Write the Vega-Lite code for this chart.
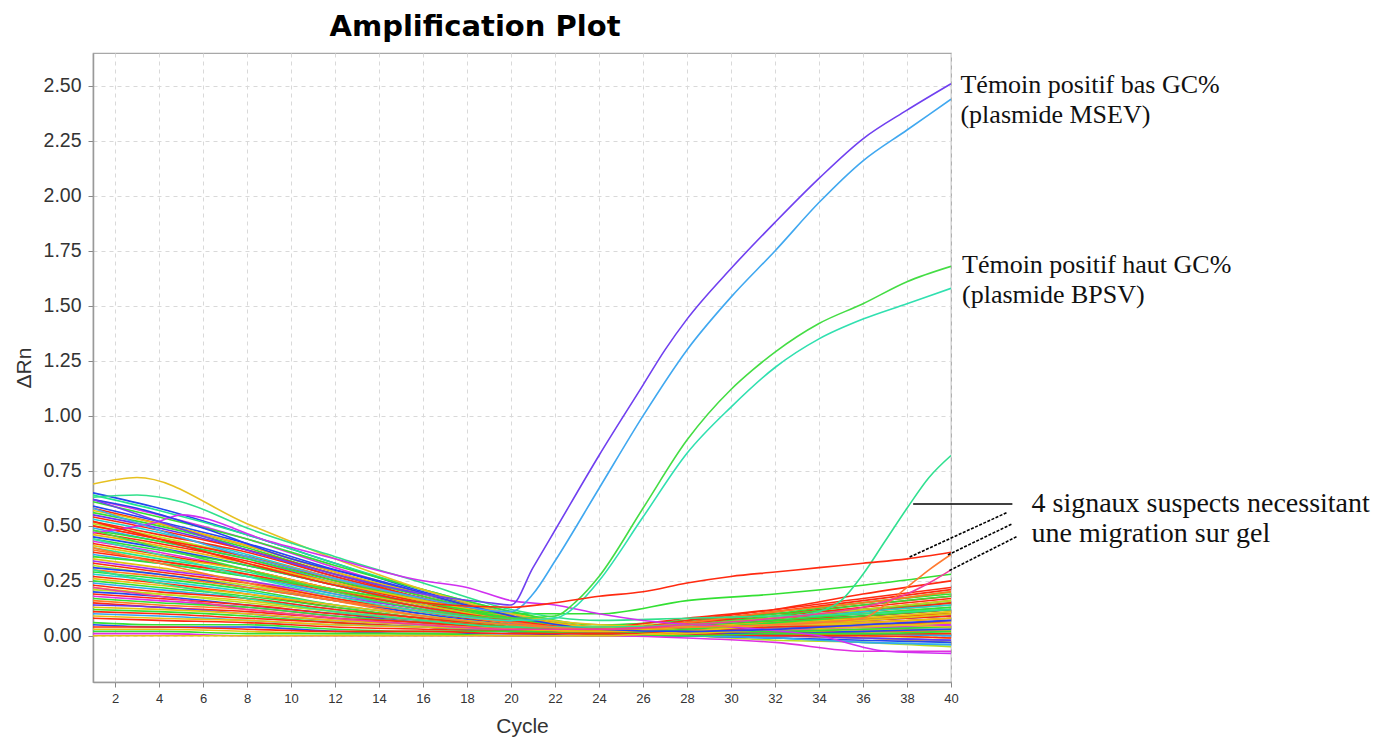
{
"$schema": "https://vega.github.io/schema/vega-lite/v6.json",
"width": 858, "height": 629,
"autosize": "none",
"padding": {"left": 93, "top": 53, "right": 431, "bottom": 58},
"background": "white",
"config": {"view": {"stroke": "#a8a8a8", "strokeWidth": 1.2}},
"title": {"text": "Amplification Plot", "font": "DejaVu Sans", "fontWeight": "bold", "fontSize": 29, "color": "#000", "anchor": "middle", "dx": -47, "baseline": "alphabetic", "offset": -12},
"datasets": {
"curves": [
{"w":"b01","c":1,"v":0.65},{"w":"b01","c":4,"v":0.58},{"w":"b01","c":8,"v":0.46},{"w":"b01","c":12,"v":0.33},{"w":"b01","c":16,"v":0.20},{"w":"b01","c":20,"v":0.10},{"w":"b01","c":24,"v":0.03},{"w":"b01","c":28,"v":0.03},{"w":"b01","c":32,"v":0.04},{"w":"b01","c":36,"v":0.04},{"w":"b01","c":40,"v":0.05},
{"w":"b02","c":1,"v":0.64},{"w":"b02","c":4,"v":0.57},{"w":"b02","c":8,"v":0.46},{"w":"b02","c":12,"v":0.33},{"w":"b02","c":16,"v":0.21},{"w":"b02","c":20,"v":0.11},{"w":"b02","c":24,"v":0.04},{"w":"b02","c":28,"v":0.05},{"w":"b02","c":32,"v":0.07},{"w":"b02","c":36,"v":0.08},{"w":"b02","c":40,"v":0.10},
{"w":"b03","c":1,"v":0.62},{"w":"b03","c":4,"v":0.55},{"w":"b03","c":8,"v":0.44},{"w":"b03","c":12,"v":0.31},{"w":"b03","c":16,"v":0.19},{"w":"b03","c":20,"v":0.09},{"w":"b03","c":24,"v":0.02},{"w":"b03","c":28,"v":0.01},{"w":"b03","c":32,"v":0.00},{"w":"b03","c":36,"v":-0.01},{"w":"b03","c":40,"v":-0.02},
{"w":"b04","c":1,"v":0.61},{"w":"b04","c":4,"v":0.54},{"w":"b04","c":8,"v":0.44},{"w":"b04","c":12,"v":0.32},{"w":"b04","c":16,"v":0.21},{"w":"b04","c":20,"v":0.11},{"w":"b04","c":24,"v":0.05},{"w":"b04","c":28,"v":0.07},{"w":"b04","c":32,"v":0.10},{"w":"b04","c":36,"v":0.12},{"w":"b04","c":40,"v":0.15},
{"w":"b05","c":1,"v":0.59},{"w":"b05","c":4,"v":0.52},{"w":"b05","c":8,"v":0.42},{"w":"b05","c":12,"v":0.30},{"w":"b05","c":16,"v":0.19},{"w":"b05","c":20,"v":0.09},{"w":"b05","c":24,"v":0.03},{"w":"b05","c":28,"v":0.02},{"w":"b05","c":32,"v":0.02},{"w":"b05","c":36,"v":0.01},{"w":"b05","c":40,"v":0.00},
{"w":"b06","c":1,"v":0.58},{"w":"b06","c":4,"v":0.51},{"w":"b06","c":8,"v":0.41},{"w":"b06","c":12,"v":0.29},{"w":"b06","c":16,"v":0.18},{"w":"b06","c":20,"v":0.08},{"w":"b06","c":24,"v":0.02},{"w":"b06","c":28,"v":0.03},{"w":"b06","c":32,"v":0.05},{"w":"b06","c":36,"v":0.06},{"w":"b06","c":40,"v":0.08},
{"w":"b07","c":1,"v":0.57},{"w":"b07","c":4,"v":0.51},{"w":"b07","c":8,"v":0.41},{"w":"b07","c":12,"v":0.29},{"w":"b07","c":16,"v":0.19},{"w":"b07","c":20,"v":0.10},{"w":"b07","c":24,"v":0.04},{"w":"b07","c":28,"v":0.06},{"w":"b07","c":32,"v":0.08},{"w":"b07","c":36,"v":0.10},{"w":"b07","c":40,"v":0.12},
{"w":"b08","c":1,"v":0.56},{"w":"b08","c":4,"v":0.50},{"w":"b08","c":8,"v":0.40},{"w":"b08","c":12,"v":0.28},{"w":"b08","c":16,"v":0.18},{"w":"b08","c":20,"v":0.09},{"w":"b08","c":24,"v":0.03},{"w":"b08","c":28,"v":0.06},{"w":"b08","c":32,"v":0.11},{"w":"b08","c":36,"v":0.15},{"w":"b08","c":40,"v":0.20},
{"w":"b09","c":1,"v":0.55},{"w":"b09","c":4,"v":0.49},{"w":"b09","c":8,"v":0.39},{"w":"b09","c":12,"v":0.27},{"w":"b09","c":16,"v":0.17},{"w":"b09","c":20,"v":0.08},{"w":"b09","c":24,"v":0.02},{"w":"b09","c":28,"v":0.02},{"w":"b09","c":32,"v":0.02},{"w":"b09","c":36,"v":0.03},{"w":"b09","c":40,"v":0.03},
{"w":"b10","c":1,"v":0.54},{"w":"b10","c":4,"v":0.48},{"w":"b10","c":8,"v":0.39},{"w":"b10","c":12,"v":0.28},{"w":"b10","c":16,"v":0.17},{"w":"b10","c":20,"v":0.09},{"w":"b10","c":24,"v":0.03},{"w":"b10","c":28,"v":0.06},{"w":"b10","c":32,"v":0.10},{"w":"b10","c":36,"v":0.14},{"w":"b10","c":40,"v":0.18},
{"w":"b11","c":1,"v":0.53},{"w":"b11","c":4,"v":0.47},{"w":"b11","c":8,"v":0.37},{"w":"b11","c":12,"v":0.26},{"w":"b11","c":16,"v":0.16},{"w":"b11","c":20,"v":0.07},{"w":"b11","c":24,"v":0.01},{"w":"b11","c":28,"v":0.00},{"w":"b11","c":32,"v":-0.01},{"w":"b11","c":36,"v":-0.03},{"w":"b11","c":40,"v":-0.04},
{"w":"b12","c":1,"v":0.52},{"w":"b12","c":4,"v":0.46},{"w":"b12","c":8,"v":0.38},{"w":"b12","c":12,"v":0.27},{"w":"b12","c":16,"v":0.17},{"w":"b12","c":20,"v":0.09},{"w":"b12","c":24,"v":0.04},{"w":"b12","c":28,"v":0.08},{"w":"b12","c":32,"v":0.12},{"w":"b12","c":36,"v":0.17},{"w":"b12","c":40,"v":0.22},
{"w":"b13","c":1,"v":0.51},{"w":"b13","c":4,"v":0.45},{"w":"b13","c":8,"v":0.36},{"w":"b13","c":12,"v":0.26},{"w":"b13","c":16,"v":0.16},{"w":"b13","c":20,"v":0.07},{"w":"b13","c":24,"v":0.02},{"w":"b13","c":28,"v":0.03},{"w":"b13","c":32,"v":0.04},{"w":"b13","c":36,"v":0.05},{"w":"b13","c":40,"v":0.06},
{"w":"b14","c":1,"v":0.50},{"w":"b14","c":4,"v":0.44},{"w":"b14","c":8,"v":0.36},{"w":"b14","c":12,"v":0.26},{"w":"b14","c":16,"v":0.16},{"w":"b14","c":20,"v":0.08},{"w":"b14","c":24,"v":0.03},{"w":"b14","c":28,"v":0.05},{"w":"b14","c":32,"v":0.08},{"w":"b14","c":36,"v":0.11},{"w":"b14","c":40,"v":0.14},
{"w":"b15","c":1,"v":0.50},{"w":"b15","c":4,"v":0.44},{"w":"b15","c":8,"v":0.36},{"w":"b15","c":12,"v":0.25},{"w":"b15","c":16,"v":0.15},{"w":"b15","c":20,"v":0.07},{"w":"b15","c":24,"v":0.02},{"w":"b15","c":28,"v":0.07},{"w":"b15","c":32,"v":0.12},{"w":"b15","c":36,"v":0.19},{"w":"b15","c":40,"v":0.25},
{"w":"b16","c":1,"v":0.49},{"w":"b16","c":4,"v":0.43},{"w":"b16","c":8,"v":0.35},{"w":"b16","c":12,"v":0.24},{"w":"b16","c":16,"v":0.14},{"w":"b16","c":20,"v":0.06},{"w":"b16","c":24,"v":0.01},{"w":"b16","c":28,"v":0.00},{"w":"b16","c":32,"v":0.00},{"w":"b16","c":36,"v":-0.01},{"w":"b16","c":40,"v":-0.02},
{"w":"b17","c":1,"v":0.48},{"w":"b17","c":4,"v":0.43},{"w":"b17","c":8,"v":0.35},{"w":"b17","c":12,"v":0.25},{"w":"b17","c":16,"v":0.16},{"w":"b17","c":20,"v":0.08},{"w":"b17","c":24,"v":0.03},{"w":"b17","c":28,"v":0.04},{"w":"b17","c":32,"v":0.06},{"w":"b17","c":36,"v":0.08},{"w":"b17","c":40,"v":0.10},
{"w":"b18","c":1,"v":0.47},{"w":"b18","c":4,"v":0.42},{"w":"b18","c":8,"v":0.34},{"w":"b18","c":12,"v":0.24},{"w":"b18","c":16,"v":0.15},{"w":"b18","c":20,"v":0.07},{"w":"b18","c":24,"v":0.02},{"w":"b18","c":28,"v":0.05},{"w":"b18","c":32,"v":0.08},{"w":"b18","c":36,"v":0.12},{"w":"b18","c":40,"v":0.16},
{"w":"b19","c":1,"v":0.46},{"w":"b19","c":4,"v":0.41},{"w":"b19","c":8,"v":0.33},{"w":"b19","c":12,"v":0.24},{"w":"b19","c":16,"v":0.16},{"w":"b19","c":20,"v":0.09},{"w":"b19","c":24,"v":0.04},{"w":"b19","c":28,"v":0.04},{"w":"b19","c":32,"v":0.03},{"w":"b19","c":36,"v":0.03},{"w":"b19","c":40,"v":0.02},
{"w":"b20","c":1,"v":0.45},{"w":"b20","c":4,"v":0.40},{"w":"b20","c":8,"v":0.32},{"w":"b20","c":12,"v":0.23},{"w":"b20","c":16,"v":0.14},{"w":"b20","c":20,"v":0.07},{"w":"b20","c":24,"v":0.02},{"w":"b20","c":28,"v":0.04},{"w":"b20","c":32,"v":0.07},{"w":"b20","c":36,"v":0.09},{"w":"b20","c":40,"v":0.12},
{"w":"b21","c":1,"v":0.44},{"w":"b21","c":4,"v":0.39},{"w":"b21","c":8,"v":0.32},{"w":"b21","c":12,"v":0.23},{"w":"b21","c":16,"v":0.14},{"w":"b21","c":20,"v":0.08},{"w":"b21","c":24,"v":0.03},{"w":"b21","c":28,"v":0.06},{"w":"b21","c":32,"v":0.10},{"w":"b21","c":36,"v":0.15},{"w":"b21","c":40,"v":0.19},
{"w":"b22","c":1,"v":0.43},{"w":"b22","c":4,"v":0.38},{"w":"b22","c":8,"v":0.30},{"w":"b22","c":12,"v":0.21},{"w":"b22","c":16,"v":0.13},{"w":"b22","c":20,"v":0.06},{"w":"b22","c":24,"v":0.01},{"w":"b22","c":28,"v":0.02},{"w":"b22","c":32,"v":0.03},{"w":"b22","c":36,"v":0.04},{"w":"b22","c":40,"v":0.05},
{"w":"b23","c":1,"v":0.42},{"w":"b23","c":4,"v":0.37},{"w":"b23","c":8,"v":0.30},{"w":"b23","c":12,"v":0.21},{"w":"b23","c":16,"v":0.13},{"w":"b23","c":20,"v":0.06},{"w":"b23","c":24,"v":0.02},{"w":"b23","c":28,"v":0.06},{"w":"b23","c":32,"v":0.11},{"w":"b23","c":36,"v":0.16},{"w":"b23","c":40,"v":0.21},
{"w":"b24","c":1,"v":0.41},{"w":"b24","c":4,"v":0.36},{"w":"b24","c":8,"v":0.30},{"w":"b24","c":12,"v":0.21},{"w":"b24","c":16,"v":0.14},{"w":"b24","c":20,"v":0.07},{"w":"b24","c":24,"v":0.03},{"w":"b24","c":28,"v":0.02},{"w":"b24","c":32,"v":0.00},{"w":"b24","c":36,"v":-0.01},{"w":"b24","c":40,"v":-0.03},
{"w":"b25","c":1,"v":0.40},{"w":"b25","c":4,"v":0.35},{"w":"b25","c":8,"v":0.29},{"w":"b25","c":12,"v":0.20},{"w":"b25","c":16,"v":0.13},{"w":"b25","c":20,"v":0.06},{"w":"b25","c":24,"v":0.02},{"w":"b25","c":28,"v":0.04},{"w":"b25","c":32,"v":0.07},{"w":"b25","c":36,"v":0.10},{"w":"b25","c":40,"v":0.13},
{"w":"b26","c":1,"v":0.39},{"w":"b26","c":4,"v":0.34},{"w":"b26","c":8,"v":0.28},{"w":"b26","c":12,"v":0.19},{"w":"b26","c":16,"v":0.12},{"w":"b26","c":20,"v":0.05},{"w":"b26","c":24,"v":0.01},{"w":"b26","c":28,"v":0.02},{"w":"b26","c":32,"v":0.04},{"w":"b26","c":36,"v":0.06},{"w":"b26","c":40,"v":0.08},
{"w":"b27","c":1,"v":0.38},{"w":"b27","c":4,"v":0.34},{"w":"b27","c":8,"v":0.28},{"w":"b27","c":12,"v":0.20},{"w":"b27","c":16,"v":0.13},{"w":"b27","c":20,"v":0.07},{"w":"b27","c":24,"v":0.03},{"w":"b27","c":28,"v":0.06},{"w":"b27","c":32,"v":0.09},{"w":"b27","c":36,"v":0.13},{"w":"b27","c":40,"v":0.17},
{"w":"b28","c":1,"v":0.37},{"w":"b28","c":4,"v":0.33},{"w":"b28","c":8,"v":0.27},{"w":"b28","c":12,"v":0.19},{"w":"b28","c":16,"v":0.12},{"w":"b28","c":20,"v":0.06},{"w":"b28","c":24,"v":0.02},{"w":"b28","c":28,"v":0.02},{"w":"b28","c":32,"v":0.01},{"w":"b28","c":36,"v":0.01},{"w":"b28","c":40,"v":0.00},
{"w":"b29","c":1,"v":0.36},{"w":"b29","c":4,"v":0.33},{"w":"b29","c":8,"v":0.27},{"w":"b29","c":12,"v":0.21},{"w":"b29","c":16,"v":0.15},{"w":"b29","c":20,"v":0.10},{"w":"b29","c":24,"v":0.10},{"w":"b29","c":28,"v":0.16},{"w":"b29","c":32,"v":0.19},{"w":"b29","c":36,"v":0.23},{"w":"b29","c":40,"v":0.28},
{"w":"b30","c":1,"v":0.35},{"w":"b30","c":4,"v":0.31},{"w":"b30","c":8,"v":0.25},{"w":"b30","c":12,"v":0.17},{"w":"b30","c":16,"v":0.11},{"w":"b30","c":20,"v":0.05},{"w":"b30","c":24,"v":0.01},{"w":"b30","c":28,"v":0.03},{"w":"b30","c":32,"v":0.06},{"w":"b30","c":36,"v":0.08},{"w":"b30","c":40,"v":0.11},
{"w":"b31","c":1,"v":0.34},{"w":"b31","c":4,"v":0.30},{"w":"b31","c":8,"v":0.25},{"w":"b31","c":12,"v":0.18},{"w":"b31","c":16,"v":0.12},{"w":"b31","c":20,"v":0.06},{"w":"b31","c":24,"v":0.03},{"w":"b31","c":28,"v":0.03},{"w":"b31","c":32,"v":0.03},{"w":"b31","c":36,"v":0.04},{"w":"b31","c":40,"v":0.04},
{"w":"b32","c":1,"v":0.33},{"w":"b32","c":4,"v":0.29},{"w":"b32","c":8,"v":0.24},{"w":"b32","c":12,"v":0.17},{"w":"b32","c":16,"v":0.11},{"w":"b32","c":20,"v":0.05},{"w":"b32","c":24,"v":0.02},{"w":"b32","c":28,"v":0.05},{"w":"b32","c":32,"v":0.08},{"w":"b32","c":36,"v":0.11},{"w":"b32","c":40,"v":0.15},
{"w":"b33","c":1,"v":0.32},{"w":"b33","c":4,"v":0.28},{"w":"b33","c":8,"v":0.23},{"w":"b33","c":12,"v":0.16},{"w":"b33","c":16,"v":0.10},{"w":"b33","c":20,"v":0.04},{"w":"b33","c":24,"v":0.01},{"w":"b33","c":28,"v":0.00},{"w":"b33","c":32,"v":-0.02},{"w":"b33","c":36,"v":-0.03},{"w":"b33","c":40,"v":-0.05},
{"w":"b34","c":1,"v":0.31},{"w":"b34","c":4,"v":0.28},{"w":"b34","c":8,"v":0.22},{"w":"b34","c":12,"v":0.16},{"w":"b34","c":16,"v":0.10},{"w":"b34","c":20,"v":0.05},{"w":"b34","c":24,"v":0.02},{"w":"b34","c":28,"v":0.03},{"w":"b34","c":32,"v":0.05},{"w":"b34","c":36,"v":0.07},{"w":"b34","c":40,"v":0.09},
{"w":"b35","c":1,"v":0.30},{"w":"b35","c":4,"v":0.27},{"w":"b35","c":8,"v":0.22},{"w":"b35","c":12,"v":0.16},{"w":"b35","c":16,"v":0.11},{"w":"b35","c":20,"v":0.06},{"w":"b35","c":24,"v":0.03},{"w":"b35","c":28,"v":0.06},{"w":"b35","c":32,"v":0.11},{"w":"b35","c":36,"v":0.15},{"w":"b35","c":40,"v":0.20},
{"w":"b36","c":1,"v":0.29},{"w":"b36","c":4,"v":0.26},{"w":"b36","c":8,"v":0.21},{"w":"b36","c":12,"v":0.14},{"w":"b36","c":16,"v":0.09},{"w":"b36","c":20,"v":0.04},{"w":"b36","c":24,"v":0.01},{"w":"b36","c":28,"v":0.01},{"w":"b36","c":32,"v":0.01},{"w":"b36","c":36,"v":0.01},{"w":"b36","c":40,"v":0.01},
{"w":"b37","c":1,"v":0.28},{"w":"b37","c":4,"v":0.25},{"w":"b37","c":8,"v":0.20},{"w":"b37","c":12,"v":0.14},{"w":"b37","c":16,"v":0.09},{"w":"b37","c":20,"v":0.05},{"w":"b37","c":24,"v":0.02},{"w":"b37","c":28,"v":0.04},{"w":"b37","c":32,"v":0.07},{"w":"b37","c":36,"v":0.11},{"w":"b37","c":40,"v":0.14},
{"w":"b38","c":1,"v":0.27},{"w":"b38","c":4,"v":0.24},{"w":"b38","c":8,"v":0.19},{"w":"b38","c":12,"v":0.13},{"w":"b38","c":16,"v":0.08},{"w":"b38","c":20,"v":0.04},{"w":"b38","c":24,"v":0.01},{"w":"b38","c":28,"v":0.02},{"w":"b38","c":32,"v":0.03},{"w":"b38","c":36,"v":0.05},{"w":"b38","c":40,"v":0.06},
{"w":"b39","c":1,"v":0.26},{"w":"b39","c":4,"v":0.23},{"w":"b39","c":8,"v":0.19},{"w":"b39","c":12,"v":0.14},{"w":"b39","c":16,"v":0.09},{"w":"b39","c":20,"v":0.05},{"w":"b39","c":24,"v":0.02},{"w":"b39","c":28,"v":0.01},{"w":"b39","c":32,"v":0.01},{"w":"b39","c":36,"v":0.00},{"w":"b39","c":40,"v":-0.01},
{"w":"b40","c":1,"v":0.25},{"w":"b40","c":4,"v":0.22},{"w":"b40","c":8,"v":0.18},{"w":"b40","c":12,"v":0.13},{"w":"b40","c":16,"v":0.08},{"w":"b40","c":20,"v":0.05},{"w":"b40","c":24,"v":0.02},{"w":"b40","c":28,"v":0.05},{"w":"b40","c":32,"v":0.09},{"w":"b40","c":36,"v":0.14},{"w":"b40","c":40,"v":0.18},
{"w":"b41","c":1,"v":0.24},{"w":"b41","c":4,"v":0.21},{"w":"b41","c":8,"v":0.17},{"w":"b41","c":12,"v":0.12},{"w":"b41","c":16,"v":0.07},{"w":"b41","c":20,"v":0.04},{"w":"b41","c":24,"v":0.01},{"w":"b41","c":28,"v":0.02},{"w":"b41","c":32,"v":0.04},{"w":"b41","c":36,"v":0.05},{"w":"b41","c":40,"v":0.07},
{"w":"b42","c":1,"v":0.23},{"w":"b42","c":4,"v":0.20},{"w":"b42","c":8,"v":0.17},{"w":"b42","c":12,"v":0.12},{"w":"b42","c":16,"v":0.08},{"w":"b42","c":20,"v":0.04},{"w":"b42","c":24,"v":0.02},{"w":"b42","c":28,"v":0.04},{"w":"b42","c":32,"v":0.07},{"w":"b42","c":36,"v":0.09},{"w":"b42","c":40,"v":0.12},
{"w":"b43","c":1,"v":0.22},{"w":"b43","c":4,"v":0.19},{"w":"b43","c":8,"v":0.16},{"w":"b43","c":12,"v":0.11},{"w":"b43","c":16,"v":0.07},{"w":"b43","c":20,"v":0.03},{"w":"b43","c":24,"v":0.01},{"w":"b43","c":28,"v":0.01},{"w":"b43","c":32,"v":0.02},{"w":"b43","c":36,"v":0.02},{"w":"b43","c":40,"v":0.03},
{"w":"b44","c":1,"v":0.21},{"w":"b44","c":4,"v":0.19},{"w":"b44","c":8,"v":0.15},{"w":"b44","c":12,"v":0.11},{"w":"b44","c":16,"v":0.07},{"w":"b44","c":20,"v":0.04},{"w":"b44","c":24,"v":0.02},{"w":"b44","c":28,"v":0.05},{"w":"b44","c":32,"v":0.08},{"w":"b44","c":36,"v":0.12},{"w":"b44","c":40,"v":0.16},
{"w":"b45","c":1,"v":0.20},{"w":"b45","c":4,"v":0.18},{"w":"b45","c":8,"v":0.14},{"w":"b45","c":12,"v":0.10},{"w":"b45","c":16,"v":0.06},{"w":"b45","c":20,"v":0.03},{"w":"b45","c":24,"v":0.01},{"w":"b45","c":28,"v":0.00},{"w":"b45","c":32,"v":-0.01},{"w":"b45","c":36,"v":-0.02},{"w":"b45","c":40,"v":-0.03},
{"w":"b46","c":1,"v":0.19},{"w":"b46","c":4,"v":0.17},{"w":"b46","c":8,"v":0.14},{"w":"b46","c":12,"v":0.10},{"w":"b46","c":16,"v":0.07},{"w":"b46","c":20,"v":0.04},{"w":"b46","c":24,"v":0.02},{"w":"b46","c":28,"v":0.04},{"w":"b46","c":32,"v":0.06},{"w":"b46","c":36,"v":0.08},{"w":"b46","c":40,"v":0.10},
{"w":"b47","c":1,"v":0.18},{"w":"b47","c":4,"v":0.16},{"w":"b47","c":8,"v":0.13},{"w":"b47","c":12,"v":0.09},{"w":"b47","c":16,"v":0.06},{"w":"b47","c":20,"v":0.03},{"w":"b47","c":24,"v":0.01},{"w":"b47","c":28,"v":0.02},{"w":"b47","c":32,"v":0.03},{"w":"b47","c":36,"v":0.04},{"w":"b47","c":40,"v":0.05},
{"w":"b48","c":1,"v":0.17},{"w":"b48","c":4,"v":0.15},{"w":"b48","c":8,"v":0.13},{"w":"b48","c":12,"v":0.09},{"w":"b48","c":16,"v":0.06},{"w":"b48","c":20,"v":0.04},{"w":"b48","c":24,"v":0.02},{"w":"b48","c":28,"v":0.04},{"w":"b48","c":32,"v":0.07},{"w":"b48","c":36,"v":0.10},{"w":"b48","c":40,"v":0.13},
{"w":"b49","c":1,"v":0.16},{"w":"b49","c":4,"v":0.14},{"w":"b49","c":8,"v":0.12},{"w":"b49","c":12,"v":0.08},{"w":"b49","c":16,"v":0.05},{"w":"b49","c":20,"v":0.03},{"w":"b49","c":24,"v":0.01},{"w":"b49","c":28,"v":0.01},{"w":"b49","c":32,"v":0.01},{"w":"b49","c":36,"v":0.02},{"w":"b49","c":40,"v":0.02},
{"w":"b50","c":1,"v":0.15},{"w":"b50","c":4,"v":0.13},{"w":"b50","c":8,"v":0.11},{"w":"b50","c":12,"v":0.08},{"w":"b50","c":16,"v":0.06},{"w":"b50","c":20,"v":0.03},{"w":"b50","c":24,"v":0.02},{"w":"b50","c":28,"v":0.03},{"w":"b50","c":32,"v":0.05},{"w":"b50","c":36,"v":0.07},{"w":"b50","c":40,"v":0.09},
{"w":"b51","c":1,"v":0.14},{"w":"b51","c":4,"v":0.13},{"w":"b51","c":8,"v":0.10},{"w":"b51","c":12,"v":0.07},{"w":"b51","c":16,"v":0.05},{"w":"b51","c":20,"v":0.02},{"w":"b51","c":24,"v":0.01},{"w":"b51","c":28,"v":0.00},{"w":"b51","c":32,"v":0.00},{"w":"b51","c":36,"v":-0.01},{"w":"b51","c":40,"v":-0.02},
{"w":"b52","c":1,"v":0.13},{"w":"b52","c":4,"v":0.12},{"w":"b52","c":8,"v":0.10},{"w":"b52","c":12,"v":0.07},{"w":"b52","c":16,"v":0.05},{"w":"b52","c":20,"v":0.03},{"w":"b52","c":24,"v":0.02},{"w":"b52","c":28,"v":0.04},{"w":"b52","c":32,"v":0.06},{"w":"b52","c":36,"v":0.08},{"w":"b52","c":40,"v":0.11},
{"w":"b53","c":1,"v":0.12},{"w":"b53","c":4,"v":0.11},{"w":"b53","c":8,"v":0.09},{"w":"b53","c":12,"v":0.06},{"w":"b53","c":16,"v":0.04},{"w":"b53","c":20,"v":0.02},{"w":"b53","c":24,"v":0.01},{"w":"b53","c":28,"v":0.02},{"w":"b53","c":32,"v":0.02},{"w":"b53","c":36,"v":0.03},{"w":"b53","c":40,"v":0.04},
{"w":"b54","c":1,"v":0.11},{"w":"b54","c":4,"v":0.10},{"w":"b54","c":8,"v":0.08},{"w":"b54","c":12,"v":0.06},{"w":"b54","c":16,"v":0.04},{"w":"b54","c":20,"v":0.02},{"w":"b54","c":24,"v":0.01},{"w":"b54","c":28,"v":0.02},{"w":"b54","c":32,"v":0.04},{"w":"b54","c":36,"v":0.05},{"w":"b54","c":40,"v":0.07},
{"w":"b55","c":1,"v":0.10},{"w":"b55","c":4,"v":0.09},{"w":"b55","c":8,"v":0.07},{"w":"b55","c":12,"v":0.05},{"w":"b55","c":16,"v":0.04},{"w":"b55","c":20,"v":0.02},{"w":"b55","c":24,"v":0.01},{"w":"b55","c":28,"v":0.00},{"w":"b55","c":32,"v":-0.01},{"w":"b55","c":36,"v":-0.03},{"w":"b55","c":40,"v":-0.04},
{"w":"b56","c":1,"v":0.09},{"w":"b56","c":4,"v":0.08},{"w":"b56","c":8,"v":0.07},{"w":"b56","c":12,"v":0.05},{"w":"b56","c":16,"v":0.04},{"w":"b56","c":20,"v":0.03},{"w":"b56","c":24,"v":0.02},{"w":"b56","c":28,"v":0.03},{"w":"b56","c":32,"v":0.05},{"w":"b56","c":36,"v":0.06},{"w":"b56","c":40,"v":0.08},
{"w":"b57","c":1,"v":0.08},{"w":"b57","c":4,"v":0.07},{"w":"b57","c":8,"v":0.06},{"w":"b57","c":12,"v":0.04},{"w":"b57","c":16,"v":0.03},{"w":"b57","c":20,"v":0.02},{"w":"b57","c":24,"v":0.01},{"w":"b57","c":28,"v":0.01},{"w":"b57","c":32,"v":0.01},{"w":"b57","c":36,"v":0.01},{"w":"b57","c":40,"v":0.01},
{"w":"b58","c":1,"v":0.06},{"w":"b58","c":4,"v":0.05},{"w":"b58","c":8,"v":0.05},{"w":"b58","c":12,"v":0.03},{"w":"b58","c":16,"v":0.02},{"w":"b58","c":20,"v":0.02},{"w":"b58","c":24,"v":0.01},{"w":"b58","c":28,"v":0.03},{"w":"b58","c":32,"v":0.06},{"w":"b58","c":36,"v":0.09},{"w":"b58","c":40,"v":0.12},
{"w":"b59","c":1,"v":0.05},{"w":"b59","c":4,"v":0.04},{"w":"b59","c":8,"v":0.04},{"w":"b59","c":12,"v":0.02},{"w":"b59","c":16,"v":0.01},{"w":"b59","c":20,"v":0.01},{"w":"b59","c":24,"v":0.00},{"w":"b59","c":28,"v":0.01},{"w":"b59","c":32,"v":0.01},{"w":"b59","c":36,"v":0.02},{"w":"b59","c":40,"v":0.03},
{"w":"b60","c":1,"v":0.04},{"w":"b60","c":4,"v":0.04},{"w":"b60","c":8,"v":0.03},{"w":"b60","c":12,"v":0.02},{"w":"b60","c":16,"v":0.02},{"w":"b60","c":20,"v":0.01},{"w":"b60","c":24,"v":0.01},{"w":"b60","c":28,"v":0.01},{"w":"b60","c":32,"v":0.00},{"w":"b60","c":36,"v":0.00},{"w":"b60","c":40,"v":-0.01},
{"w":"b61","c":1,"v":0.03},{"w":"b61","c":4,"v":0.03},{"w":"b61","c":8,"v":0.02},{"w":"b61","c":12,"v":0.01},{"w":"b61","c":16,"v":0.01},{"w":"b61","c":20,"v":0.00},{"w":"b61","c":24,"v":0.00},{"w":"b61","c":28,"v":0.01},{"w":"b61","c":32,"v":0.03},{"w":"b61","c":36,"v":0.04},{"w":"b61","c":40,"v":0.06},
{"w":"b62","c":1,"v":0.02},{"w":"b62","c":4,"v":0.02},{"w":"b62","c":8,"v":0.01},{"w":"b62","c":12,"v":0.01},{"w":"b62","c":16,"v":0.01},{"w":"b62","c":20,"v":0.00},{"w":"b62","c":24,"v":0.00},{"w":"b62","c":28,"v":0.00},{"w":"b62","c":32,"v":0.01},{"w":"b62","c":36,"v":0.01},{"w":"b62","c":40,"v":0.02},
{"w":"b63","c":1,"v":0.01},{"w":"b63","c":4,"v":0.01},{"w":"b63","c":8,"v":0.00},{"w":"b63","c":12,"v":0.00},{"w":"b63","c":16,"v":0.00},{"w":"b63","c":20,"v":0.00},{"w":"b63","c":24,"v":0.00},{"w":"b63","c":28,"v":-0.01},{"w":"b63","c":32,"v":-0.03},{"w":"b63","c":36,"v":-0.07},{"w":"b63","c":40,"v":-0.07},
{"w":"b64","c":1,"v":0.00},{"w":"b64","c":4,"v":0.00},{"w":"b64","c":8,"v":0.00},{"w":"b64","c":12,"v":0.00},{"w":"b64","c":16,"v":0.00},{"w":"b64","c":20,"v":0.00},{"w":"b64","c":24,"v":0.00},{"w":"b64","c":28,"v":0.02},{"w":"b64","c":32,"v":0.05},{"w":"b64","c":36,"v":0.07},{"w":"b64","c":40,"v":0.10},
{"w":"n1","c":1,"v":0.69},{"w":"n1","c":3,"v":0.72},{"w":"n1","c":8,"v":0.51},{"w":"n1","c":12,"v":0.35},{"w":"n1","c":16,"v":0.21},{"w":"n1","c":20,"v":0.10},{"w":"n1","c":24,"v":0.05},{"w":"n1","c":28,"v":0.04},{"w":"n1","c":32,"v":0.05},{"w":"n1","c":36,"v":0.05},{"w":"n1","c":40,"v":0.04},
{"w":"n2","c":1,"v":0.63},{"w":"n2","c":3,"v":0.64},{"w":"n2","c":5,"v":0.61},{"w":"n2","c":8,"v":0.49},{"w":"n2","c":12,"v":0.36},{"w":"n2","c":16,"v":0.24},{"w":"n2","c":20,"v":0.12},{"w":"n2","c":24,"v":0.07},{"w":"n2","c":28,"v":0.08},{"w":"n2","c":32,"v":0.09},{"w":"n2","c":36,"v":0.10},{"w":"n2","c":40,"v":0.12},
{"w":"n3","c":1,"v":0.47},{"w":"n3","c":4,"v":0.52},{"w":"n3","c":5,"v":0.55},{"w":"n3","c":9,"v":0.43},{"w":"n3","c":12,"v":0.35},{"w":"n3","c":16,"v":0.25},{"w":"n3","c":18,"v":0.22},{"w":"n3","c":20,"v":0.16},{"w":"n3","c":22,"v":0.14},{"w":"n3","c":24,"v":0.10},{"w":"n3","c":26,"v":0.07},{"w":"n3","c":30,"v":0.04},{"w":"n3","c":34,"v":0.00},{"w":"n3","c":37,"v":-0.07},{"w":"n3","c":40,"v":-0.08},
{"w":"n4","c":1,"v":0.62},{"w":"n4","c":3,"v":0.58},{"w":"n4","c":6,"v":0.49},{"w":"n4","c":10,"v":0.35},{"w":"n4","c":14,"v":0.25},{"w":"n4","c":18,"v":0.14},{"w":"n4","c":21,"v":0.07},{"w":"n4","c":24,"v":0.03},{"w":"n4","c":28,"v":0.02},{"w":"n4","c":32,"v":0.03},{"w":"n4","c":36,"v":0.05},{"w":"n4","c":40,"v":0.07},
{"w":"MSEV1","c":1,"v":0.62},{"w":"MSEV1","c":4,"v":0.52},{"w":"MSEV1","c":8,"v":0.39},{"w":"MSEV1","c":12,"v":0.28},{"w":"MSEV1","c":16,"v":0.19},{"w":"MSEV1","c":19,"v":0.15},{"w":"MSEV1","c":20,"v":0.14},{"w":"MSEV1","c":21,"v":0.31},{"w":"MSEV1","c":22,"v":0.48},{"w":"MSEV1","c":24,"v":0.82},{"w":"MSEV1","c":26,"v":1.14},{"w":"MSEV1","c":27,"v":1.30},{"w":"MSEV1","c":28,"v":1.44},{"w":"MSEV1","c":30,"v":1.67},{"w":"MSEV1","c":32,"v":1.88},{"w":"MSEV1","c":34,"v":2.08},{"w":"MSEV1","c":36,"v":2.26},{"w":"MSEV1","c":38,"v":2.39},{"w":"MSEV1","c":40,"v":2.51},
{"w":"MSEV2","c":1,"v":0.58},{"w":"MSEV2","c":4,"v":0.48},{"w":"MSEV2","c":8,"v":0.36},{"w":"MSEV2","c":12,"v":0.26},{"w":"MSEV2","c":16,"v":0.17},{"w":"MSEV2","c":20,"v":0.11},{"w":"MSEV2","c":21,"v":0.19},{"w":"MSEV2","c":22,"v":0.34},{"w":"MSEV2","c":24,"v":0.67},{"w":"MSEV2","c":26,"v":1.00},{"w":"MSEV2","c":28,"v":1.30},{"w":"MSEV2","c":30,"v":1.54},{"w":"MSEV2","c":32,"v":1.75},{"w":"MSEV2","c":34,"v":1.97},{"w":"MSEV2","c":36,"v":2.16},{"w":"MSEV2","c":38,"v":2.30},{"w":"MSEV2","c":40,"v":2.44},
{"w":"BPSV1","c":1,"v":0.48},{"w":"BPSV1","c":4,"v":0.40},{"w":"BPSV1","c":8,"v":0.30},{"w":"BPSV1","c":12,"v":0.20},{"w":"BPSV1","c":16,"v":0.12},{"w":"BPSV1","c":20,"v":0.08},{"w":"BPSV1","c":22,"v":0.09},{"w":"BPSV1","c":23,"v":0.16},{"w":"BPSV1","c":24,"v":0.27},{"w":"BPSV1","c":26,"v":0.58},{"w":"BPSV1","c":28,"v":0.89},{"w":"BPSV1","c":30,"v":1.12},{"w":"BPSV1","c":31,"v":1.21},{"w":"BPSV1","c":32,"v":1.29},{"w":"BPSV1","c":34,"v":1.42},{"w":"BPSV1","c":36,"v":1.51},{"w":"BPSV1","c":38,"v":1.61},{"w":"BPSV1","c":40,"v":1.68},
{"w":"BPSV2","c":1,"v":0.44},{"w":"BPSV2","c":4,"v":0.37},{"w":"BPSV2","c":8,"v":0.27},{"w":"BPSV2","c":12,"v":0.18},{"w":"BPSV2","c":16,"v":0.11},{"w":"BPSV2","c":20,"v":0.07},{"w":"BPSV2","c":22,"v":0.08},{"w":"BPSV2","c":23,"v":0.14},{"w":"BPSV2","c":24,"v":0.25},{"w":"BPSV2","c":26,"v":0.54},{"w":"BPSV2","c":28,"v":0.83},{"w":"BPSV2","c":30,"v":1.04},{"w":"BPSV2","c":32,"v":1.22},{"w":"BPSV2","c":34,"v":1.35},{"w":"BPSV2","c":36,"v":1.44},{"w":"BPSV2","c":38,"v":1.51},{"w":"BPSV2","c":40,"v":1.58},
{"w":"S1","c":1,"v":0.30},{"w":"S1","c":4,"v":0.24},{"w":"S1","c":8,"v":0.17},{"w":"S1","c":12,"v":0.11},{"w":"S1","c":16,"v":0.07},{"w":"S1","c":20,"v":0.04},{"w":"S1","c":24,"v":0.04},{"w":"S1","c":28,"v":0.05},{"w":"S1","c":32,"v":0.08},{"w":"S1","c":34,"v":0.11},{"w":"S1","c":35,"v":0.16},{"w":"S1","c":36,"v":0.28},{"w":"S1","c":37,"v":0.43},{"w":"S1","c":38,"v":0.58},{"w":"S1","c":39,"v":0.72},{"w":"S1","c":40,"v":0.82},
{"w":"S2","c":1,"v":0.52},{"w":"S2","c":4,"v":0.44},{"w":"S2","c":8,"v":0.33},{"w":"S2","c":12,"v":0.23},{"w":"S2","c":16,"v":0.15},{"w":"S2","c":20,"v":0.13},{"w":"S2","c":22,"v":0.15},{"w":"S2","c":24,"v":0.18},{"w":"S2","c":26,"v":0.20},{"w":"S2","c":28,"v":0.24},{"w":"S2","c":30,"v":0.27},{"w":"S2","c":32,"v":0.29},{"w":"S2","c":34,"v":0.31},{"w":"S2","c":36,"v":0.33},{"w":"S2","c":38,"v":0.35},{"w":"S2","c":40,"v":0.38},
{"w":"S3","c":1,"v":0.40},{"w":"S3","c":4,"v":0.33},{"w":"S3","c":8,"v":0.24},{"w":"S3","c":12,"v":0.16},{"w":"S3","c":16,"v":0.09},{"w":"S3","c":20,"v":0.05},{"w":"S3","c":24,"v":0.03},{"w":"S3","c":28,"v":0.04},{"w":"S3","c":32,"v":0.05},{"w":"S3","c":34,"v":0.06},{"w":"S3","c":36,"v":0.08},{"w":"S3","c":37,"v":0.14},{"w":"S3","c":38,"v":0.22},{"w":"S3","c":39,"v":0.30},{"w":"S3","c":40,"v":0.37},
{"w":"S4","c":1,"v":0.22},{"w":"S4","c":4,"v":0.18},{"w":"S4","c":8,"v":0.12},{"w":"S4","c":12,"v":0.08},{"w":"S4","c":16,"v":0.05},{"w":"S4","c":20,"v":0.03},{"w":"S4","c":24,"v":0.03},{"w":"S4","c":28,"v":0.05},{"w":"S4","c":32,"v":0.08},{"w":"S4","c":34,"v":0.10},{"w":"S4","c":36,"v":0.13},{"w":"S4","c":38,"v":0.19},{"w":"S4","c":39,"v":0.24},{"w":"S4","c":40,"v":0.30}
],
"notes": [
{"t":"Témoin positif bas GC%","x":40.43,"y":2.468},
{"t":"(plasmide MSEV)","x":40.43,"y":2.332},
{"t":"Témoin positif haut GC%","x":40.5,"y":1.65},
{"t":"(plasmide BPSV)","x":40.5,"y":1.514}
],
"notes2": [
{"t":"4 signaux suspects necessitant","x":43.66,"y":0.564},
{"t":"une migration sur gel","x":43.66,"y":0.427}
],
"solid": [
{"x1":38.28,"y1":0.599,"x2":42.79,"y2":0.599}
],
"dashed": [
{"x1":38.12,"y1":0.358,"x2":42.53,"y2":0.560},
{"x1":39.86,"y1":0.368,"x2":42.78,"y2":0.509},
{"x1":39.93,"y1":0.297,"x2":42.99,"y2":0.451}
]
},
"layer": [
{
"data": {"name": "curves"},
"mark": {"type": "line", "strokeWidth": 1.6, "clip": true, "interpolate": "monotone"},
"encoding": {
"x": {"field": "c", "type": "quantitative", "scale": {"domain": [1, 40], "nice": false, "zero": false},
"axis": {"title": "Cycle", "values": [2,4,6,8,10,12,14,16,18,20,22,24,26,28,30,32,34,36,38,40], "labelFont": "Liberation Sans", "labelFontSize": 13, "labelColor": "#333", "labelPadding": 5, "labelFlush": false, "titleFont": "Liberation Sans", "titleFontSize": 21, "titleFontWeight": "normal", "titleColor": "#333", "titlePadding": 10, "tickSize": 5, "tickColor": "#888", "domainColor": "#999", "domainWidth": 1.5, "grid": true, "gridColor": "#d9d9d9", "gridDash": [4, 4], "gridWidth": 1}},
"y": {"field": "v", "type": "quantitative", "scale": {"domain": [-0.21, 2.65], "nice": false, "zero": false},
"axis": {"title": "ΔRn", "values": [0,0.25,0.5,0.75,1,1.25,1.5,1.75,2,2.25,2.5], "format": ".2f", "labelFont": "Liberation Sans", "labelFontSize": 19.5, "labelColor": "#333", "labelPadding": 7, "titleFont": "Liberation Sans", "titleFontSize": 21, "titleFontWeight": "normal", "titleColor": "#333", "titlePadding": 9, "tickSize": 5, "tickColor": "#888", "domainColor": "#999", "domainWidth": 1.5, "grid": true, "gridColor": "#d9d9d9", "gridDash": [4, 4], "gridWidth": 1}},
"color": {"field": "w", "type": "nominal", "legend": null, "scale": {
"domain": ["b01","b02","b03","b04","b05","b06","b07","b08","b09","b10","b11","b12","b13","b14","b15","b16","b17","b18","b19","b20","b21","b22","b23","b24","b25","b26","b27","b28","b29","b30","b31","b32","b33","b34","b35","b36","b37","b38","b39","b40","b41","b42","b43","b44","b45","b46","b47","b48","b49","b50","b51","b52","b53","b54","b55","b56","b57","b58","b59","b60","b61","b62","b63","b64","n1","n2","n3","n4","MSEV1","MSEV2","BPSV1","BPSV2","S1","S2","S3","S4"],
"range": ["#2448f0","#20e890","#e030e0","#33e033","#2448f0","#ff2a10","#e6c010","#33e033","#6a34f0","#ff2a10","#20d0d0","#ff2a10","#b8e020","#ff7a20","#ff2a10","#30a8f0","#33e033","#ff2a10","#e6c010","#2448f0","#33e033","#e030e0","#ff2a10","#e6c010","#20e890","#ff7a20","#ff2a10","#30a8f0","#33e033","#e6c010","#a830f0","#ff2a10","#b8e020","#2448f0","#ff7a20","#33e033","#20d0d0","#ff2a10","#e6c010","#33e033","#30a8f0","#ff2a10","#e6c010","#b8e020","#2448f0","#ff2a10","#e030e0","#33e033","#ff7a20","#ff2a10","#6a34f0","#e6c010","#33e033","#ff2a10","#30a8f0","#e6c010","#ff2a10","#33e033","#2448f0","#ff2a10","#e6c010","#33e033","#e030e0","#e6c010","#e6c020","#30e08c","#d030f0","#2a40f0","#7040f0","#40a8f0","#44dd44","#30e0b0","#30e090","#ff2a10","#ff7a30","#f03c9c"]}}
}
},
{
"data": {"name": "solid"},
"mark": {"type": "rule", "color": "#000", "strokeWidth": 1.5, "clip": false},
"encoding": {
"x": {"field": "x1", "type": "quantitative", "scale": {"domain": [1, 40], "nice": false, "zero": false}},
"y": {"field": "y1", "type": "quantitative", "scale": {"domain": [-0.21, 2.65], "nice": false, "zero": false}},
"x2": {"field": "x2"}, "y2": {"field": "y2"}
}
},
{
"data": {"name": "dashed"},
"mark": {"type": "rule", "color": "#000", "strokeWidth": 1.6, "strokeDash": [3, 1.5], "clip": false},
"encoding": {
"x": {"field": "x1", "type": "quantitative", "scale": {"domain": [1, 40], "nice": false, "zero": false}},
"y": {"field": "y1", "type": "quantitative", "scale": {"domain": [-0.21, 2.65], "nice": false, "zero": false}},
"x2": {"field": "x2"}, "y2": {"field": "y2"}
}
},
{
"data": {"name": "notes"},
"mark": {"type": "text", "align": "left", "baseline": "alphabetic", "font": "Liberation Serif", "fontSize": 26, "color": "#111"},
"encoding": {
"x": {"field": "x", "type": "quantitative", "scale": {"domain": [1, 40], "nice": false, "zero": false}},
"y": {"field": "y", "type": "quantitative", "scale": {"domain": [-0.21, 2.65], "nice": false, "zero": false}},
"text": {"field": "t"}
}
},
{
"data": {"name": "notes2"},
"mark": {"type": "text", "align": "left", "baseline": "alphabetic", "font": "Liberation Serif", "fontSize": 28, "color": "#111"},
"encoding": {
"x": {"field": "x", "type": "quantitative", "scale": {"domain": [1, 40], "nice": false, "zero": false}},
"y": {"field": "y", "type": "quantitative", "scale": {"domain": [-0.21, 2.65], "nice": false, "zero": false}},
"text": {"field": "t"}
}
}
]
}
